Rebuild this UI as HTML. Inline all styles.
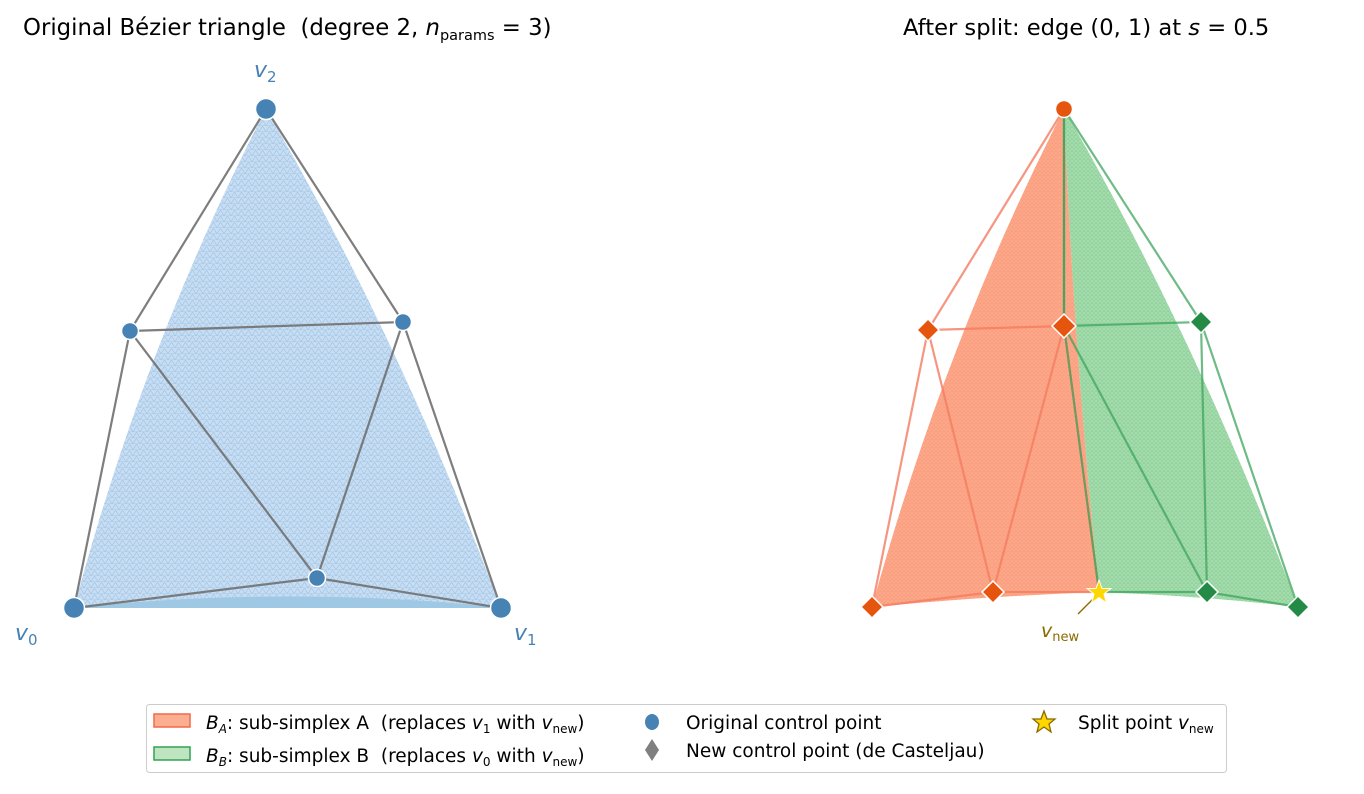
<!DOCTYPE html>
<html><head><meta charset="utf-8"><style>
body{margin:0;background:#fff;}
svg{font-family:"DejaVu Sans","Liberation Sans",sans-serif;}
text{white-space:pre;}
</style></head><body>
<svg width="1364" height="789" viewBox="0 0 1364 789" xmlns="http://www.w3.org/2000/svg" xml:space="preserve">
<defs>
<pattern id="mb" width="7" height="6" patternUnits="userSpaceOnUse">
<path d="M0 6 L3.5 0 L7 6 M0 6 H7" stroke="#8fbde2" stroke-width="0.7" fill="none"/>
</pattern>
<pattern id="mr" width="4" height="4" patternUnits="userSpaceOnUse">
<path d="M0 4 L2 0 L4 4 M0 4 H4" stroke="#f58b6e" stroke-width="0.5" fill="none"/>
</pattern>
<pattern id="mg" width="4" height="4" patternUnits="userSpaceOnUse">
<path d="M0 4 L2 0 L4 4 M0 4 H4" stroke="#6cc080" stroke-width="0.5" fill="none"/>
</pattern>
</defs>
<text x="23" y="35" font-size="22.8" fill="#000">Original Bézier triangle  (degree 2, <tspan font-style="italic">n</tspan><tspan font-size="14.5" dy="5">params</tspan><tspan dy="-5"> = 3)</tspan></text>
<text x="903" y="35" font-size="22.6" fill="#000">After split: edge (0, 1) at <tspan font-style="italic">s</tspan> = 0.5</text>

<path d="M74 608 Q302 593 501 608 Q398 335 266 109 Q145 342 74 608 Z" fill="#c8ddf2"/>
<path d="M74 608 Q302 593 501 608 Q398 335 266 109 Q145 342 74 608 Z" fill="url(#mb)" opacity="0.7"/>
<path d="M80 607 Q290 586 497 607 L497 608 L80 608Z" fill="#9ec8e4"/>
<g stroke="#707070" stroke-width="2.2" fill="none" stroke-opacity="0.9">
<path d="M74 608 L130 331 L266 109 L403 322 L501 608 L317 578 Z"/>
<path d="M130 331 L403 322 L317 578 Z"/>
</g>
<g fill="#4682b4" stroke="#fff" stroke-width="1.5">
<circle cx="74" cy="608" r="10.5"/><circle cx="501" cy="608" r="10.5"/><circle cx="266" cy="109" r="10.5"/>
<circle cx="130" cy="331" r="8.5"/><circle cx="403" cy="322" r="8.5"/><circle cx="317" cy="578" r="8.5"/>
</g>
<g fill="#4682b4" font-size="22" font-style="italic">
<text x="254" y="77">v<tspan font-size="15" font-style="normal" dy="5">2</tspan></text>
<text x="15" y="640">v<tspan font-size="15" font-style="normal" dy="5">0</tspan></text>
<text x="514" y="640">v<tspan font-size="15" font-style="normal" dy="5">1</tspan></text>
</g>

<path d="M872 607 Q989 596 1099 592 Q1073 338 1064 109 Q945 342 872 607 Z" fill="#fca98a"/>
<path d="M872 607 Q989 596 1099 592 Q1073 338 1064 109 Q945 342 872 607 Z" fill="url(#mr)" opacity="0.6"/>
<path d="M1099 592 Q1203 596 1298 607 Q1195 335 1064 109 Q1073 338 1099 592 Z" fill="#a6dcae"/>
<path d="M1099 592 Q1203 596 1298 607 Q1195 335 1064 109 Q1073 338 1099 592 Z" fill="url(#mg)" opacity="0.6"/>
<g stroke="#f47c60" stroke-width="2.2" fill="none" stroke-opacity="0.8">
<path d="M872 607 L928 330 L1064 109 M872 607 L993 592 L1099 592"/>
<path d="M928 330 L1064 326 L993 592 Z M1064 326 L1099 592"/>
</g>
<g stroke="#3fa45c" stroke-width="2.2" fill="none" stroke-opacity="0.75">
<path d="M1064 109 L1201 322 L1298 607 L1207 592 L1099 592 L1064 326 Z"/>
<path d="M1064 326 L1201 322 L1207 592 Z M1064 109 L1064 326"/>
</g>
<line x1="1078" y1="614" x2="1094" y2="598" stroke="#8a6a00" stroke-width="1.3"/>
<g stroke="#fff" stroke-width="1.5">
<circle cx="1064" cy="109" r="8.5" fill="#e6550d"/>
<g fill="#e6550d">
<path d="M872 596 L883 607 L872 618 L861 607Z"/>
<path d="M993 581 L1004 592 L993 603 L982 592Z"/>
<path d="M928 319 L939 330 L928 341 L917 330Z"/>
<path d="M1064 314 L1076 326 L1064 338 L1052 326Z"/>
</g>
<g fill="#238b45">
<path d="M1201 311 L1212 322 L1201 333 L1190 322Z"/>
<path d="M1207 581 L1218 592 L1207 603 L1196 592Z"/>
<path d="M1298 596 L1309 607 L1298 618 L1287 607Z"/>
</g>
<path d="M1099 580 L1102 588.5 L1111 588.5 L1104 594 L1106.5 603 L1099 597.5 L1091.5 603 L1094 594 L1087 588.5 L1096 588.5Z" fill="#ffd700" stroke="#fff" stroke-width="1"/>
</g>
<text x="1041" y="637" fill="#8a6a00" font-size="19" font-style="italic">v<tspan font-size="13" font-style="normal" dy="4">new</tspan></text>

<rect x="146.5" y="704.5" width="1080" height="68" rx="3" fill="#fff" stroke="#ccc" stroke-width="1"/>
<rect x="154" y="714" width="36" height="13" fill="#fcae91" stroke="#f4694a" stroke-width="1.5"/>
<rect x="154" y="747" width="36" height="13" fill="#bfe5c0" stroke="#31a354" stroke-width="1.5"/>
<g font-size="18.5" fill="#000">
<text x="206" y="729"><tspan font-style="italic">B</tspan><tspan font-size="12" font-style="italic" dy="4">A</tspan><tspan dy="-4">: sub-simplex A  (replaces </tspan><tspan font-style="italic">v</tspan><tspan font-size="12" dy="4">1</tspan><tspan dy="-4"> with </tspan><tspan font-style="italic">v</tspan><tspan font-size="12" dy="4">new</tspan><tspan dy="-4">)</tspan></text>
<text x="206" y="762"><tspan font-style="italic">B</tspan><tspan font-size="12" font-style="italic" dy="4">B</tspan><tspan dy="-4">: sub-simplex B  (replaces </tspan><tspan font-style="italic">v</tspan><tspan font-size="12" dy="4">0</tspan><tspan dy="-4"> with </tspan><tspan font-style="italic">v</tspan><tspan font-size="12" dy="4">new</tspan><tspan dy="-4">)</tspan></text>
<text x="686" y="729">Original control point</text>
<text x="686" y="757">New control point (de Casteljau)</text>
<text x="1078" y="729">Split point <tspan font-style="italic">v</tspan><tspan font-size="12" dy="4">new</tspan></text>
</g>
<ellipse cx="652" cy="722" rx="7" ry="8" fill="#4682b4"/>
<path d="M652 739 L659 750 L652 761 L645 750Z" fill="#808080"/>
<path d="M1044 711 L1047 719 L1055 719 L1049 724 L1051 732 L1044 727 L1037 732 L1039 724 L1033 719 L1041 719Z" fill="#ffd700" stroke="#8a6a00" stroke-width="1.3"/>
</svg>
</body></html>
